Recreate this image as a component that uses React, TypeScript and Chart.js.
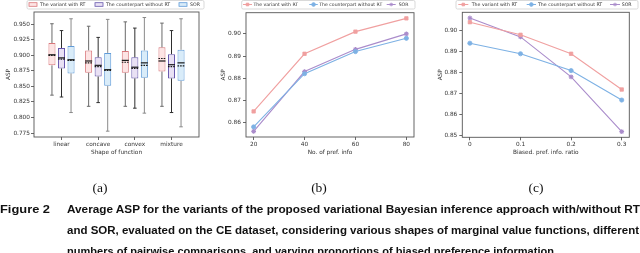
import React, { useEffect, useRef } from "react";
import { Chart, registerables } from "chart.js";
import { drawPoint } from "chart.js/helpers";

Chart.register(...registerables);

// ---------------- Data ----------------
const seriesLabels = ["The variant with RT", "The counterpart without RT", "SOR"];

// (a) box plot
const shapeCategories = ["linear", "concave", "convex", "mixture"];
const shapePositions = [1, 2, 3, 4];

const rtMin = [0.836, 0.818, 0.818, 0.818];
const rtQ1 = [0.884, 0.872, 0.872, 0.874];
const rtMedian = [0.901, 0.891, 0.892, 0.891];
const rtMean = [0.9, 0.888, 0.889, 0.895];
const rtQ3 = [0.92, 0.908, 0.907, 0.913];
const rtMax = [0.951, 0.947, 0.954, 0.952];

const noRtMin = [0.833, 0.824, 0.815, 0.808];
const noRtQ1 = [0.879, 0.866, 0.863, 0.863];
const noRtMedian = [0.896, 0.884, 0.881, 0.885];
const noRtMean = [0.894, 0.882, 0.879, 0.882];
const noRtQ3 = [0.912, 0.897, 0.897, 0.902];
const noRtMax = [0.94, 0.929, 0.944, 0.94];

const sorMin = [0.808, 0.778, 0.807, 0.785];
const sorQ1 = [0.871, 0.851, 0.864, 0.859];
const sorMedian = [0.893, 0.877, 0.888, 0.888];
const sorMean = [0.892, 0.876, 0.884, 0.883];
const sorQ3 = [0.915, 0.904, 0.908, 0.909];
const sorMax = [0.959, 0.958, 0.961, 0.959];

const aTicks = [0.775, 0.8, 0.825, 0.85, 0.875, 0.9, 0.925, 0.95];

// (b) number of preference information
const prefCounts = [20, 40, 60, 80];
const prefRt = [0.865, 0.891, 0.901, 0.907];
const prefNoRt = [0.858, 0.882, 0.892, 0.898];
const prefSor = [0.856, 0.883, 0.893, 0.9];
const bTicks = [0.86, 0.87, 0.88, 0.89, 0.9];

// (c) biased preference information ratio
const biasRatios = [0, 0.1, 0.2, 0.3];
const biasRatioLabels = ["0", "0.1", "0.2", "0.3"];
const biasRt = [0.904, 0.898, 0.889, 0.872];
const biasNoRt = [0.894, 0.889, 0.881, 0.867];
const biasSor = [0.906, 0.897, 0.878, 0.852];
const cTicks = [0.85, 0.86, 0.87, 0.88, 0.89, 0.9];

const panelLabels = ["(a)", "(b)", "(c)"];
const captionHead = "Figure 2";
const captionLines = [
  "Average ASP for the variants of the proposed variational Bayesian inference approach with/without RT",
  "and SOR, evaluated on the CE dataset, considering various shapes of marginal value functions, different",
  "numbers of pairwise comparisons, and varying proportions of biased preference information.",
];

// ---------------- Styles ----------------
const RED = "#f0a0a0";
const BLUE = "#7db1e4";
const PURPLE = "#aa8ccb";
const FONT = "DejaVu Sans";
const TXT = "#333";

// ---------------- Plugins ----------------
const boxWhiskerPlugin = {
  id: "boxWhisker",
  afterDatasetsDraw(chart: any) {
    const ctx = chart.ctx;
    const y = chart.scales.y;
    const line = (x1: number, y1: number, x2: number, y2: number) => {
      ctx.beginPath();
      ctx.moveTo(x1, y1);
      ctx.lineTo(x2, y2);
      ctx.stroke();
    };
    ctx.save();
    chart.data.datasets.forEach((ds: any, di: number) => {
      const meta = chart.getDatasetMeta(di);
      const st = ds.stats;
      meta.data.forEach((bar: any, i: number) => {
        const x = bar.x;
        const w = bar.width;
        const pMin = y.getPixelForValue(st.min[i]);
        const pQ1 = y.getPixelForValue(st.q1[i]);
        const pMed = y.getPixelForValue(st.median[i]);
        const pMean = y.getPixelForValue(st.mean[i]);
        const pQ3 = y.getPixelForValue(st.q3[i]);
        const pMax = y.getPixelForValue(st.max[i]);
        ctx.setLineDash([]);
        ctx.strokeStyle = ds.whiskerColor;
        ctx.lineWidth = 1;
        line(x, pQ3, x, pMax);
        line(x, pQ1, x, pMin);
        line(x - w / 4, pMax, x + w / 4, pMax);
        line(x - w / 4, pMin, x + w / 4, pMin);
        ctx.strokeStyle = "#1a1a1a";
        ctx.lineWidth = 1.2;
        line(x - w / 2, pMed, x + w / 2, pMed);
        ctx.setLineDash([1.6, 1]);
        line(x - w / 2, pMean, x + w / 2, pMean);
      });
    });
    ctx.restore();
  },
};

const framePlugin = {
  id: "axesFrame",
  afterDatasetsDraw(chart: any) {
    const { left, top, right, bottom } = chart.chartArea;
    const ctx = chart.ctx;
    ctx.save();
    ctx.strokeStyle = "#555";
    ctx.lineWidth = 0.9;
    ctx.strokeRect(left, top, right - left, bottom - top);
    ctx.restore();
  },
};

const frameLegendPlugin = {
  id: "frameLegend",
  afterDraw(chart: any, _args: any, opts: any) {
    if (!opts || !opts.items) return;
    const ctx = chart.ctx;
    ctx.save();
    const f = opts.frame;
    ctx.fillStyle = "#fff";
    ctx.strokeStyle = "#cfcfcf";
    ctx.lineWidth = 0.8;
    ctx.beginPath();
    (ctx as any).roundRect(f.x, f.y, f.w, f.h, 1.5);
    ctx.fill();
    ctx.stroke();
    ctx.font = `${opts.fontSize}px "${FONT}"`;
    ctx.textBaseline = "middle";
    ctx.textAlign = "left";
    const cy = opts.cy;
    chart.data.datasets.forEach((ds: any, i: number) => {
      const it = opts.items[i];
      if (opts.kind === "patch") {
        ctx.fillStyle = ds.backgroundColor;
        ctx.strokeStyle = ds.borderColor;
        ctx.lineWidth = 0.8;
        ctx.fillRect(it.sx, cy - 1.8, it.sw, 3.6);
        ctx.strokeRect(it.sx, cy - 1.8, it.sw, 3.6);
      } else {
        ctx.strokeStyle = ds.borderColor;
        ctx.lineWidth = 1;
        ctx.beginPath();
        ctx.moveTo(it.sx, cy);
        ctx.lineTo(it.sx + it.sw, cy);
        ctx.stroke();
        ctx.fillStyle = ds.pointBackgroundColor;
        ctx.strokeStyle = ds.pointBorderColor;
        drawPoint(ctx, { pointStyle: ds.pointStyle, radius: 1.8, borderWidth: 0.8, rotation: 0 } as any, it.sx + it.sw / 2, cy);
      }
      ctx.fillStyle = TXT;
      ctx.fillText(ds.label, it.tx, cy);
    });
    ctx.restore();
  },
};

// ---------------- Scale helpers ----------------
const tickFont = { family: FONT, size: 5.8 };

function yAxis(min: number, max: number, ticks: number[], decimals: number, width: number, titlePad: number, labelPad: number) {
  return {
    type: "linear",
    min,
    max,
    afterBuildTicks: (s: any) => {
      s.ticks = ticks.map((v) => ({ value: v }));
    },
    afterFit: (s: any) => {
      s.width = width;
    },
    border: { display: false },
    grid: { drawOnChartArea: false, drawTicks: true, tickLength: 3, color: "#444", lineWidth: 0.8 },
    ticks: {
      autoSkip: false,
      font: tickFont,
      color: TXT,
      padding: labelPad,
      callback: (v: any) => Number(v).toFixed(decimals),
    },
    title: { display: true, text: "ASP", font: tickFont, color: TXT, padding: { top: titlePad, bottom: 0 } },
  };
}

function xAxis(min: number, max: number, positions: number[], labels: string[], title: string, height: number, titleBottom: number) {
  return {
    type: "linear",
    min,
    max,
    offset: false,
    afterBuildTicks: (s: any) => {
      s.ticks = positions.map((v) => ({ value: v }));
    },
    afterFit: (s: any) => {
      s.height = height;
    },
    border: { display: false },
    grid: { offset: false, drawOnChartArea: false, drawTicks: true, tickLength: 3, color: "#444", lineWidth: 0.8 },
    ticks: {
      autoSkip: false,
      maxRotation: 0,
      font: tickFont,
      color: TXT,
      padding: 1,
      callback: (v: any) => {
        const idx = positions.indexOf(Number(v));
        return idx >= 0 ? labels[idx] : "";
      },
    },
    title: { display: true, text: title, font: tickFont, color: TXT, padding: { top: 0, bottom: titleBottom } },
  };
}

// ---------------- Chart configs ----------------
function boxConfig(): any {
  const mk = (label: string, q1: number[], q3: number[], stats: any, bg: string, border: string, whisker: string) => ({
    type: "bar",
    label,
    data: shapePositions.map((p, i) => ({ x: p, y: [q1[i], q3[i]] })),
    backgroundColor: bg,
    borderColor: border,
    borderWidth: 1,
    borderSkipped: false,
    categoryPercentage: 0.78,
    barPercentage: 0.74,
    whiskerColor: whisker,
    stats,
  });
  return {
    type: "bar",
    data: {
      datasets: [
        mk(seriesLabels[0], rtQ1, rtQ3, { min: rtMin, q1: rtQ1, median: rtMedian, mean: rtMean, q3: rtQ3, max: rtMax }, "#fde4e4", "#d9777b", "#6a6a6a"),
        mk(seriesLabels[1], noRtQ1, noRtQ3, { min: noRtMin, q1: noRtQ1, median: noRtMedian, mean: noRtMean, q3: noRtQ3, max: noRtMax }, "#e9e1f4", "#6757ad", "#2e2e2e"),
        mk(seriesLabels[2], sorQ1, sorQ3, { min: sorMin, q1: sorQ1, median: sorMedian, mean: sorMean, q3: sorQ3, max: sorMax }, "#d9ecf9", "#5f9bd8", "#8a8a8a"),
      ],
    },
    options: {
      responsive: false,
      animation: false,
      layout: { padding: { left: 0, top: 12, right: 13, bottom: 0 } },
      scales: {
        x: xAxis(0.25, 4.75, shapePositions, shapeCategories, "Shape of function", 28, 9.5),
        y: yAxis(0.7686, 0.9699, aTicks, 3, 34, 5.5, 1),
      },
      plugins: {
        legend: { display: false },
        tooltip: { enabled: false },
        frameLegend: {
          kind: "patch",
          fontSize: 4.7,
          cy: 4.5,
          frame: { x: 27, y: 0.5, w: 177, h: 8.5 },
          items: [
            { sx: 29, sw: 8, tx: 40 },
            { sx: 95, sw: 8, tx: 106 },
            { sx: 179, sw: 8, tx: 190 },
          ],
        },
      },
    },
    plugins: [boxWhiskerPlugin, framePlugin, frameLegendPlugin],
  };
}

function lineDataset(label: string, xs: number[], ys: number[], color: string, style: string) {
  return {
    label,
    data: xs.map((x, i) => ({ x, y: ys[i] })),
    borderColor: color,
    backgroundColor: color,
    pointBackgroundColor: color,
    pointBorderColor: color,
    pointStyle: style,
    pointRadius: style === "rect" ? 2.4 : style === "star" ? 2.4 : 2.1,
    pointBorderWidth: style === "star" ? 1.1 : 0.8,
    borderWidth: 1.1,
    tension: 0,
  };
}

function prefConfig(): any {
  return {
    type: "line",
    data: {
      datasets: [
        lineDataset(seriesLabels[0], prefCounts, prefRt, RED, "rect"),
        lineDataset(seriesLabels[1], prefCounts, prefNoRt, BLUE, "circle"),
        lineDataset(seriesLabels[2], prefCounts, prefSor, PURPLE, "star"),
      ],
    },
    options: {
      responsive: false,
      animation: false,
      layout: { padding: { left: 0, top: 12.7, right: 8, bottom: 0 } },
      scales: {
        x: xAxis(17, 83, prefCounts, prefCounts.map(String), "No. of pref. info", 28, 9.5),
        y: yAxis(0.85345, 0.90955, bTicks, 2, 34, 7.8, 2),
      },
      plugins: {
        legend: { display: false },
        tooltip: { enabled: false },
        frameLegend: {
          kind: "line",
          fontSize: 4.6,
          cy: 4.5,
          frame: { x: 29.7, y: 0.5, w: 173.3, h: 8.5 },
          items: [
            { sx: 31, sw: 9, tx: 41.5 },
            { sx: 97.3, sw: 8.5, tx: 107.3 },
            { sx: 174.7, sw: 9, tx: 186.7 },
          ],
        },
      },
    },
    plugins: [framePlugin, frameLegendPlugin],
  };
}

function biasConfig(): any {
  return {
    type: "line",
    data: {
      datasets: [
        lineDataset(seriesLabels[0], biasRatios, biasRt, RED, "rect"),
        lineDataset(seriesLabels[1], biasRatios, biasNoRt, BLUE, "circle"),
        lineDataset(seriesLabels[2], biasRatios, biasSor, PURPLE, "star"),
      ],
    },
    options: {
      responsive: false,
      animation: false,
      layout: { padding: { left: 0, top: 12.3, right: 10.7, bottom: 0 } },
      scales: {
        x: xAxis(-0.015, 0.315, biasRatios, biasRatioLabels, "Biased. pref. info. ratio", 27.7, 9.2),
        y: yAxis(0.8493, 0.9087, cTicks, 2, 40.3, 15.2, 2),
      },
      plugins: {
        legend: { display: false },
        tooltip: { enabled: false },
        frameLegend: {
          kind: "line",
          fontSize: 4.7,
          cy: 4.5,
          frame: { x: 34, y: 0.5, w: 182, h: 8.5 },
          items: [
            { sx: 36.3, sw: 10, tx: 49.7 },
            { sx: 104.7, sw: 9.3, tx: 116 },
            { sx: 188, sw: 10, tx: 199.7 },
          ],
        },
      },
    },
    plugins: [framePlugin, frameLegendPlugin],
  };
}

// ---------------- Components ----------------
function ChartCanvas({ make, left, width, height }: { make: () => any; left: number; width: number; height: number }) {
  const ref = useRef<HTMLCanvasElement>(null);
  useEffect(() => {
    const chart = new Chart(ref.current as HTMLCanvasElement, make());
    return () => chart.destroy();
  }, []);
  return (
    <canvas
      ref={ref}
      width={width}
      height={height}
      style={{ position: "absolute", left, top: 0, width, height }}
    />
  );
}

export default function App() {
  return (
    <div
      style={{
        position: "fixed",
        left: 0,
        top: 0,
        width: 640,
        height: 253,
        background: "#fff",
        overflow: "hidden",
      }}
    >
      <ChartCanvas make={boxConfig} left={0} width={212} height={165} />
      <ChartCanvas make={prefConfig} left={212} width={210} height={165} />
      <ChartCanvas make={biasConfig} left={422} width={218} height={165} />
      <svg
        width={640}
        height={253}
        style={{ position: "absolute", left: 0, top: 0, pointerEvents: "none" }}
      >
        {panelLabels.map((t, i) => (
          <text
            key={t}
            x={[100, 319, 536][i]}
            y={191.5}
            textAnchor="middle"
            fontFamily="Liberation Serif"
            fontSize={13.5}
            fill="#111"
          >
            {t}
          </text>
        ))}
        <text x={0} y={213} fontFamily="Liberation Sans" fontWeight="bold" fontSize={11.5} fill="#111" textLength={50} lengthAdjust="spacingAndGlyphs">
          {captionHead}
        </text>
        {captionLines.map((t, i) => (
          <text
            key={i}
            x={67}
            y={213 + i * 21}
            fontFamily="Liberation Sans"
            fontWeight="bold"
            fontSize={11.5}
            fill="#111"
            textLength={[573, 572, 490][i]}
            lengthAdjust="spacingAndGlyphs"
          >
            {t}
          </text>
        ))}
      </svg>
    </div>
  );
}
